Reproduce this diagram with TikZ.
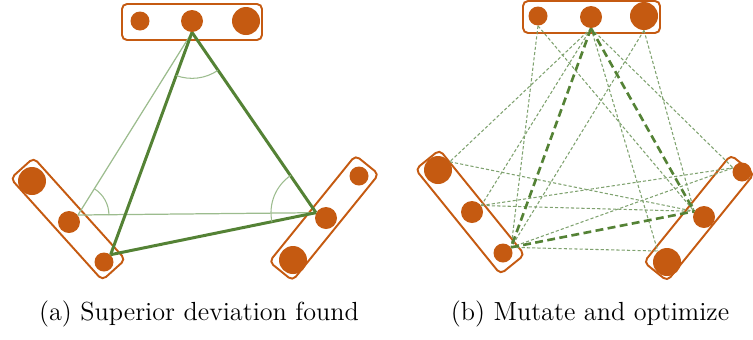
\documentclass[tikz,border=0pt]{standalone}
\usepackage{fontspec}
\definecolor{burnt}{HTML}{C55A11}
\definecolor{leaf}{HTML}{548235}
\definecolor{leaflight}{HTML}{9CBC8E}
\definecolor{leafdash}{HTML}{7FA26F}
\tikzset{
  dot/.style={circle, fill=burnt, inner sep=0pt},
  sdot/.style={dot, minimum size=0.38cm},
  mdot/.style={dot, minimum size=0.44cm},
  ldot/.style={dot, minimum size=0.56cm},
  tray/.style={draw=burnt, line width=1.1pt, rounded corners=0.1cm, inner sep=0pt},
  bold edge/.style={draw=leaf, line width=1.7pt},
  faint edge/.style={draw=leaflight, line width=0.7pt},
  angle mark/.style={draw=leaflight, line width=0.6pt},
  dash edge/.style={draw=leafdash, line width=0.6pt, dash pattern=on 1.8pt off 1.2pt},
  dash bold/.style={draw=leaf, line width=1.5pt, dash pattern=on 4.5pt off 2.5pt},
  caption/.style={font=\fontsize{14.9}{17}\selectfont, anchor=base, inner sep=0pt}
}
\begin{document}
\begin{tikzpicture}[x=0.02cm, y=-0.02cm]
\useasboundingbox (0,0) rectangle (753,339);

% ---------- (a) superior deviation found ----------
% groups
\node[tray, minimum width=2.80cm, minimum height=0.72cm] (aTop) at (192,22) {};
\node[tray, minimum width=2.74cm, minimum height=0.62cm, rotate=-48] (aLeft) at (68,219) {};
\node[tray, minimum width=2.74cm, minimum height=0.60cm, rotate=51] (aRight) at (324,218) {};
% members
\node[sdot] (aT1) at (140,21) {};
\node[mdot] (aT2) at (192,21) {};
\node[ldot] (aT3) at (246,21) {};
\node[ldot] (aL1) at (32,181) {};
\node[mdot] (aL2) at (69,222) {};
\node[sdot] (aL3) at (104,262) {};
\node[sdot] (aR1) at (359,176) {};
\node[mdot] (aR2) at (326,218) {};
\node[ldot] (aR3) at (293,260) {};
% previous triangle
\draw[faint edge] (aT2.south) -- (aL2.38);
\draw[faint edge] (aL2.38) -- (aR2.152);
% improved triangle
\draw[bold edge] (aT2.south) -- (aL3.48);
\draw[bold edge] (aT2.south) -- (aR2.152);
\draw[bold edge] (aL3.48) -- (aR2.152);
% angle marks
\draw[angle mark] (aT2.south) ++(250:0.92cm) arc[start angle=250, end angle=304, radius=0.92cm];
\draw[angle mark] (aL2.38) ++(0:0.62cm) arc[start angle=0, end angle=58, radius=0.62cm];
\draw[angle mark] (aR2.152) ++(124:0.9cm) arc[start angle=124, end angle=192, radius=0.9cm];

\node[caption] (capA) at (199,320) {(a) Superior deviation found};

% ---------- (b) mutate and optimize ----------
\node[tray, minimum width=2.74cm, minimum height=0.64cm] (bTop) at (591.5,17) {};
\node[tray, minimum width=2.70cm, minimum height=0.62cm, rotate=-51] (bLeft) at (470,212) {};
\node[tray, minimum width=2.76cm, minimum height=0.60cm, rotate=51] (bRight) at (699,218) {};
\node[sdot] (bT1) at (538,16) {};
\node[mdot] (bT2) at (591,17) {};
\node[ldot] (bT3) at (644,16) {};
\node[ldot] (bL1) at (438,170) {};
\node[mdot] (bL2) at (472,212) {};
\node[sdot] (bL3) at (503,253) {};
\node[sdot] (bR1) at (742,172) {};
\node[mdot] (bR2) at (704,217) {};
\node[ldot] (bR3) at (667,262) {};
% candidate links
\draw[dash edge] (bT1.south) -- (bL3.35);
\draw[dash edge] (bT1.south) -- (bR2.150);
\draw[dash edge] (bT2.south) -- (bL1.35);
\draw[dash edge] (bT2.south) -- (bL2.35);
\draw[dash edge] (bT2.south) -- (bR1.155);
\draw[dash edge] (bT2.south) -- (bR3.130);
\draw[dash edge] (bT3.south) -- (bL3.35);
\draw[dash edge] (bT3.south) -- (bR2.150);
\draw[dash edge] (bL1.35) -- (bR2.150);
\draw[dash edge] (bL2.35) -- (bR1.155);
\draw[dash edge] (bL2.35) -- (bR2.150);
\draw[dash edge] (bL3.35) -- (bR1.155);
\draw[dash edge] (bL3.35) -- (bR3.130);
% current best triangle
\draw[dash bold] (bT2.south) -- (bL3.35);
\draw[dash bold] (bT2.south) -- (bR2.150);
\draw[dash bold] (bL3.35) -- (bR2.150);

\node[caption] (capB) at (590,320) {(b) Mutate and optimize};
\end{tikzpicture}
\end{document}
